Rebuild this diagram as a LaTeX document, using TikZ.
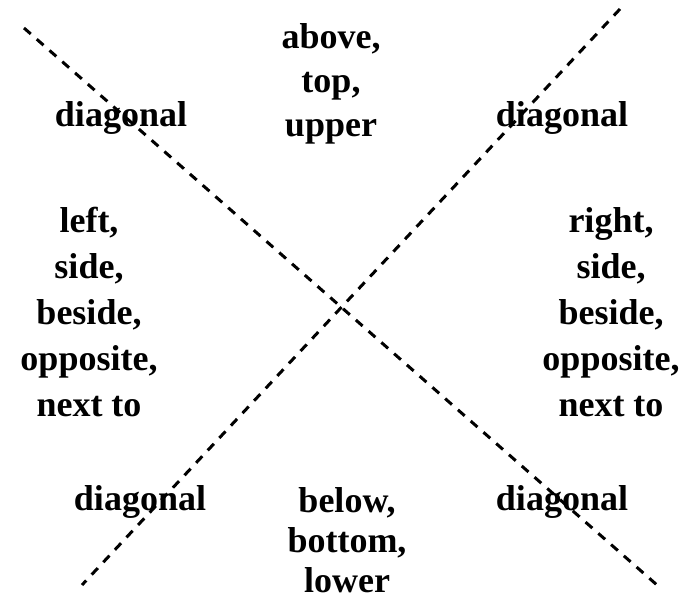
\documentclass[tikz,border=0pt]{standalone}
\usepackage{fontspec}
\setmainfont{Liberation Serif}
\usetikzlibrary{positioning}

\begin{document}
\begin{tikzpicture}[x=1pt,y=-1pt,
  word/.style={font=\fontsize{36}{43}\selectfont\bfseries,align=center,inner sep=0pt},
  cutline/.style={line width=3pt,dash pattern=on 9pt off 8pt}]
\useasboundingbox (0,0) rectangle (680,604);
% the two crossing lines
\coordinate (nw) at (24,28);
\coordinate (se) at (657,585);
\coordinate (ne) at (620,9);
\coordinate (sw) at (82,585);
\draw[cutline] (nw) -- (se);
\draw[cutline] (ne) -- (sw);
% words round the cross
\node[word,font=\fontsize{36}{44}\selectfont\bfseries] (up) at (331,84) {above,\\top,\\upper};
\node[word,font=\fontsize{36}{46}\selectfont\bfseries] (lt) at (89,312) {left,\\side,\\beside,\\opposite,\\next to};
\node[word,font=\fontsize{36}{46}\selectfont\bfseries] (rt) at (611,312) {right,\\side,\\beside,\\opposite,\\next to};
\node[word,font=\fontsize{36}{40}\selectfont\bfseries] (dn) at (347,540) {below,\\bottom,\\lower};
\node[word,anchor=base] (dnw) at (121,127) {diagonal};
\node[word,anchor=base] (dne) at (562,127) {diagonal};
\node[word,anchor=base] (dsw) at (140,510) {diagonal};
\node[word,anchor=base] (dse) at (562,510) {diagonal};
\end{tikzpicture}
\end{document}
